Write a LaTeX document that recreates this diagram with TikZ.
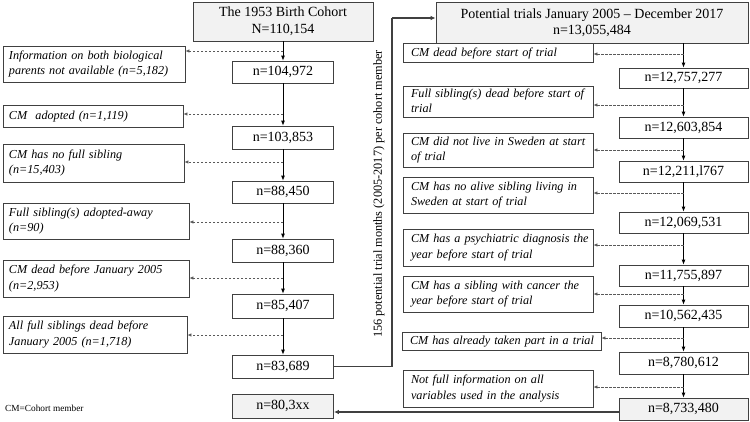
\documentclass[tikz,border=0pt]{standalone}
\usepackage{fontspec}
\setmainfont{Liberation Serif}
\usetikzlibrary{arrows.meta}
\newcommand{\lns}[1]{\begin{tabular}{@{}l@{}}#1\end{tabular}}
\definecolor{boxgray}{HTML}{F2F2F2}
\definecolor{edgec}{HTML}{404040}
\definecolor{dashc}{HTML}{595959}
\begin{document}
\begin{tikzpicture}[x=1pt,y=-1pt,
  box/.style={draw=edgec, line width=0.8pt, rectangle, inner sep=0pt},
  nbox/.style n args={2}{box, font=\fontsize{14}{17}\selectfont, align=center, minimum width=#1pt, minimum height=#2pt},
  sidebox/.style n args={3}{box, font=\fontsize{12.2}{15.5}\selectfont\itshape, align=left,
     minimum width=#1pt, minimum height=#2pt, text width=#1pt-2*#3pt, inner xsep=#3pt},
  trunk/.style={draw=black, line width=0.8pt, -{Latex[length=5pt,width=4pt]}},
  dasharrow/.style={draw=dashc, line width=0.7pt, dash pattern=on 2.5pt off 1.5pt, -{Latex[length=4pt,width=3.5pt]}},
  link/.style={draw=edgec, line width=1.5pt},
  linkarrow/.style={link, -{Latex[length=5pt,width=4.5pt]}}
]
\useasboundingbox (0,0) rectangle (750,421);

% ---------- left column ----------
\node[nbox={180}{39}, fill=boxgray, font=\fontsize{14}{17}\selectfont] (t1) at (283,21.5) {The 1953 Birth Cohort\\N=110,154};
\node[nbox={101}{22}] (n1) at (283,72) {n=104,972};
\node[nbox={101}{23}] (n2) at (283,137.5) {n=103,853};
\node[nbox={101}{22}] (n3) at (283,192) {n=88,450};
\node[nbox={101}{23}] (n4) at (283,250.5) {n=88,360};
\node[nbox={101}{24}] (n5) at (283,306) {n=85,407};
\node[nbox={101}{23}] (n6) at (283,366.5) {n=83,689};
\node[nbox={101}{24}, fill=boxgray] (n7) at (283,406) {n=80,3xx};

\node[sidebox={182}{36}{6}] (s1) at (94,64) {\lns{Information on both biological\\parents not available (n=5,182)}};
\node[sidebox={180}{22}{6}] (s2) at (93,116) {\lns{CM~ adopted (n=1,119)}};
\node[sidebox={181}{38}{6}] (s3) at (93.5,163) {\lns{CM has no full sibling\\(n=15,403)}};
\node[sidebox={186}{36}{6}] (s4) at (96,221) {\lns{Full sibling(s) adopted-away\\(n=90)}};
\node[sidebox={186}{37}{6}] (s5) at (96,278.5) {\lns{CM dead before January 2005\\(n=2,953)}};
\node[sidebox={184}{37}{6}] (s6) at (95,334.5) {\lns{All full siblings dead before\\January 2005 (n=1,718)}};

\node[anchor=west, inner sep=0pt, font=\fontsize{9.3}{11}\selectfont] (note) at (5,408) {CM=Cohort member};

\draw[trunk] (t1.south) -- (n1.north);
\draw[trunk] (n1.south) -- (n2.north);
\draw[trunk] (n2.south) -- (n3.north);
\draw[trunk] (n3.south) -- (n4.north);
\draw[trunk] (n4.south) -- (n5.north);
\draw[trunk] (n5.south) -- (n6.north);

\coordinate (dl1) at (283,51);
\coordinate (dl2) at (283,114);
\coordinate (dl3) at (283,162);
\coordinate (dl4) at (283,222);
\coordinate (dl5) at (283,278);
\coordinate (dl6) at (283,335);
\draw[dasharrow] (dl1) -- (dl1 -| s1.east);
\draw[dasharrow] (dl2) -- (dl2 -| s2.east);
\draw[dasharrow] (dl3) -- (dl3 -| s3.east);
\draw[dasharrow] (dl4) -- (dl4 -| s4.east);
\draw[dasharrow] (dl5) -- (dl5 -| s5.east);
\draw[dasharrow] (dl6) -- (dl6 -| s6.east);

% ---------- right column ----------
\node[nbox={312}{41}, fill=boxgray, font=\fontsize{14}{16.5}\selectfont] (t2) at (592,22.5) {Potential trials January 2005 – December 2017\\n=13,055,484};
\node[nbox={129}{20}] (r1) at (683.5,78) {n=12,757,277};
\node[nbox={129}{21}] (r2) at (683.5,127.5) {n=12,603,854};
\node[nbox={129}{21}] (r3) at (683.5,171.5) {n=12,211,l767};
\node[nbox={129}{21}] (r4) at (683.5,222.5) {n=12,069,531};
\node[nbox={129}{21}] (r5) at (683.5,275.5) {n=11,755,897};
\node[nbox={129}{22}] (r6) at (683.5,316) {n=10,562,435};
\node[nbox={129}{22}] (r7) at (683.5,363) {n=8,780,612};
\node[nbox={129}{22}, fill=boxgray] (r8) at (683.5,409) {n=8,733,480};

\node[sidebox={190}{19}{8}] (q1) at (498,53) {\lns{CM dead before start of trial}};
\node[sidebox={190}{30}{8}] (q2) at (498,102) {\lns{Full sibling(s) dead before start of\\trial}};
\node[sidebox={190}{34}{8}] (q3) at (498,150) {\lns{CM did not live in Sweden at start\\of trial}};
\node[sidebox={190}{36}{8}] (q4) at (498,195) {\lns{CM has no alive sibling living in\\Sweden at start of trial}};
\node[sidebox={190}{37}{8}] (q5) at (498,247.5) {\lns{CM has a psychiatric diagnosis the\\year before start of trial}};
\node[sidebox={190}{36}{8}] (q6) at (498,294) {\lns{CM has a sibling with cancer the\\year before start of trial}};
\node[sidebox={199}{18}{8}] (q7) at (501.5,341) {\lns{CM has already taken part in a trial}};
\node[sidebox={190}{37}{8}] (q8) at (498,388.5) {\lns{Not full information on all\\variables used in the analysis}};

\draw[trunk] (r1.north |- t2.south) -- (r1.north);
\draw[trunk] (r1.south) -- (r2.north);
\draw[trunk] (r2.south) -- (r3.north);
\draw[trunk] (r3.south) -- (r4.north);
\draw[trunk] (r4.south) -- (r5.north);
\draw[trunk] (r5.south) -- (r6.north);
\draw[trunk] (r6.south) -- (r7.north);
\draw[trunk] (r7.south) -- (r8.north);

\coordinate (dr1) at (683.5,54);
\coordinate (dr2) at (683.5,105);
\coordinate (dr3) at (683.5,150);
\coordinate (dr4) at (683.5,193);
\coordinate (dr5) at (683.5,245);
\coordinate (dr6) at (683.5,294);
\coordinate (dr7) at (683.5,338);
\coordinate (dr8) at (683.5,387);
\draw[dasharrow] (dr1) -- (dr1 -| q1.east);
\draw[dasharrow] (dr2) -- (dr2 -| q2.east);
\draw[dasharrow] (dr3) -- (dr3 -| q3.east);
\draw[dasharrow] (dr4) -- (dr4 -| q4.east);
\draw[dasharrow] (dr5) -- (dr5 -| q5.east);
\draw[dasharrow] (dr6) -- (dr6 -| q6.east);
\draw[dasharrow] (dr7) -- (dr7 -| q7.east);
\draw[dasharrow] (dr8) -- (dr8 -| q8.east);

% ---------- links between columns ----------
\node[rotate=90, inner sep=0pt, font=\fontsize{12.3}{15}\selectfont] (rot) at (379,194) {156 potential trial months (2005-2017) per cohort member};
\coordinate (c1) at (392,18);
\draw[link] (n6.east) -| (c1);
\draw[linkarrow] (c1) -- (c1 -| t2.west);
\coordinate (b1) at (619,412);
\draw[linkarrow] (b1 -| r8.west) -- (b1 -| n7.east);
\end{tikzpicture}
\end{document}
